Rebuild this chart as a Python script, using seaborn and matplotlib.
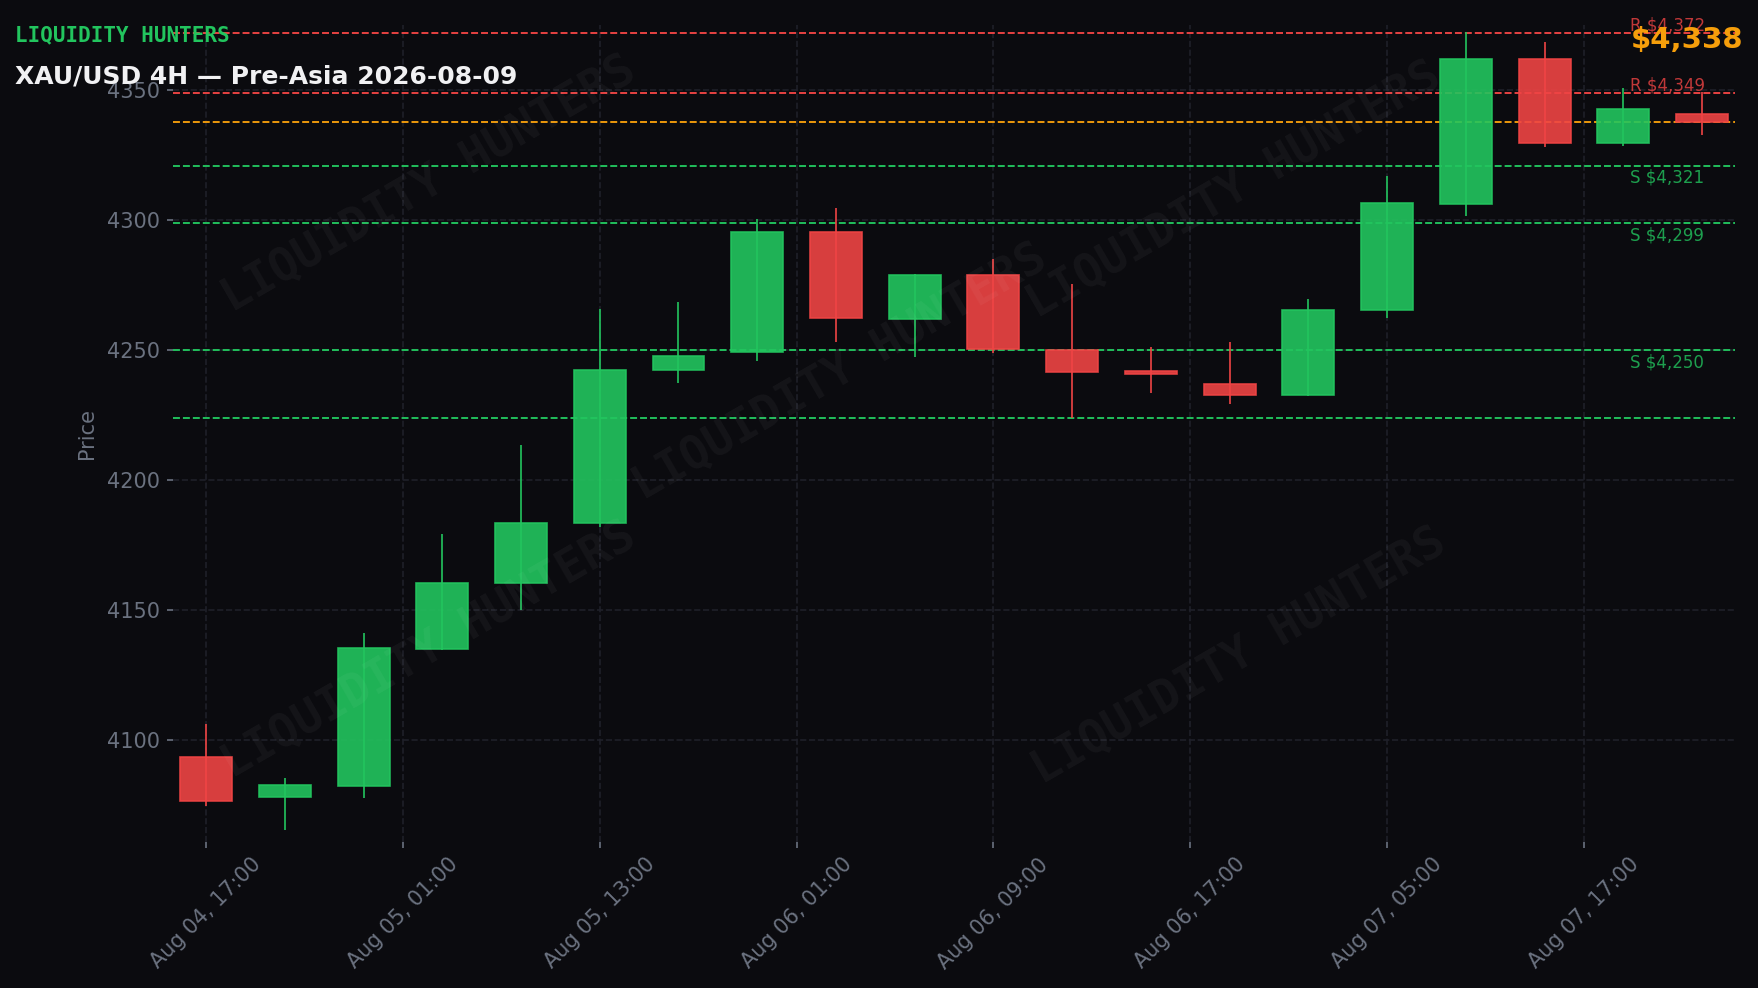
import numpy as np
import pandas as pd
import seaborn as sns
import matplotlib
matplotlib.use("Agg")
import matplotlib.pyplot as plt

# 4H candles
opens = [4093.6, 4078.4, 4082.6, 4135.1, 4160.4, 4183.5, 4242.5, 4249.3, 4295.6, 4262.2,
         4279.0, 4250.2, 4242.2, 4237.1, 4233.0, 4265.6, 4306.5, 4362.1, 4329.7, 4341.0]
highs = [4106.4, 4085.6, 4141.3, 4179.3, 4213.8, 4266.0, 4268.5, 4300.7, 4304.6, 4279.4,
         4285.3, 4275.7, 4251.5, 4253.4, 4269.8, 4317.2, 4372.3, 4368.8, 4351.0, 4349.3]
lows = [4074.9, 4065.6, 4077.9, 4134.7, 4150.0, 4182.0, 4237.5, 4246.0, 4253.4, 4247.4,
        4249.0, 4224.0, 4233.6, 4229.5, 4232.3, 4262.5, 4301.6, 4328.1, 4328.5, 4332.7]
closes = [4076.8, 4083.0, 4135.6, 4160.4, 4183.7, 4242.5, 4248.0, 4295.6, 4262.4, 4279.0,
          4250.6, 4241.6, 4241.0, 4232.9, 4265.6, 4306.7, 4362.1, 4329.7, 4342.9, 4337.7]

tick_pos = [0, 2.5, 5, 7.5, 10, 12.5, 15, 17.5]
tick_labels = ["Aug 04, 17:00", "Aug 05, 01:00", "Aug 05, 13:00", "Aug 06, 01:00",
               "Aug 06, 09:00", "Aug 06, 17:00", "Aug 07, 05:00", "Aug 07, 17:00"]

resistance = [4372, 4349]
support = [4321, 4299, 4250]
extra_support = [4224]
last_price = 4338

BG = "#0b0b0f"
GREEN = "#22c55e"
RED = "#ef4444"
ORANGE = "#f59e0b"
GRAY = "#6b7280"

sns.set_theme(style="dark", rc={
    "figure.facecolor": BG,
    "axes.facecolor": BG,
    "axes.edgecolor": BG,
    "grid.color": "#1f2029",
    "grid.linestyle": "--",
    "grid.linewidth": 0.8,
    "xtick.color": GRAY,
    "ytick.color": GRAY,
    "axes.labelcolor": GRAY,
    "xtick.bottom": True,
    "ytick.left": True,
})
plt.rcParams["font.family"] = ["DejaVu Sans"]

df = pd.DataFrame({"open": opens, "high": highs, "low": lows, "close": closes})
df["i"] = np.arange(len(df))
df["up"] = df["close"] >= df["open"]

fig = plt.figure(figsize=(11.72, 6.587), dpi=150)
ax = fig.add_axes([0.0984, 0.148, 0.8886, 0.827])

# watermarks
for (wx, wy) in [(0.244, 0.813), (0.478, 0.623), (0.702, 0.807), (0.244, 0.342), (0.705, 0.336)]:
    fig.text(wx, wy, "LIQUIDITY HUNTERS", family="DejaVu Sans Mono", fontweight="bold",
             fontsize=22, rotation=30, color="white", alpha=0.045, ha="center", va="center",
             zorder=0)

ax.grid(True, zorder=0)

# candles
for _, r in df.iterrows():
    c = GREEN if r["up"] else RED
    ax.vlines(r["i"], r["low"], r["high"], color=c, linewidth=0.8, zorder=2)
    lo = min(r["open"], r["close"])
    h = abs(r["close"] - r["open"])
    ax.bar(r["i"], max(h, 0.6), bottom=lo, width=0.66, color=c, alpha=0.9,
           edgecolor=c, linewidth=0.8, zorder=3)

# levels
for lv in resistance:
    ax.axhline(lv, color=RED, linestyle="--", linewidth=0.9, zorder=1)
    ax.text(18.08, lv + 1.0, f"R ${lv:,}", color=RED, alpha=0.8, fontsize=8,
            ha="left", va="baseline", zorder=4)
for lv in support:
    ax.axhline(lv, color=GREEN, linestyle="--", linewidth=0.9, zorder=1)
    ax.text(18.08, lv - 1.2, f"S ${lv:,}", color=GREEN, alpha=0.8, fontsize=8,
            ha="left", va="top", zorder=4)
for lv in extra_support:
    ax.axhline(lv, color=GREEN, linestyle="--", linewidth=0.9, zorder=1)
ax.axhline(last_price, color=ORANGE, linestyle="--", linewidth=0.9, zorder=1)

ax.set_xlim(-0.42, 19.42)
ax.set_ylim(4061, 4375.3)
ax.set_yticks([4100, 4150, 4200, 4250, 4300, 4350])
ax.set_xticks(tick_pos)
ax.set_xticklabels(tick_labels, rotation=45, ha="center")
ax.tick_params(axis="both", labelsize=10, length=3, width=0.8, color=GRAY, pad=3)
ax.set_ylabel("Price", fontsize=10, labelpad=5)
for s in ax.spines.values():
    s.set_visible(False)

fig.text(0.0083, 0.964, "LIQUIDITY HUNTERS", family="DejaVu Sans Mono", fontweight="bold",
         fontsize=10, color=GREEN, ha="left", va="center")
fig.text(0.0083, 0.923, "XAU/USD 4H \u2014 Pre-Asia 2026-08-09", fontweight="bold",
         fontsize=12, color="#f1f1f3", ha="left", va="center")
fig.text(0.9917, 0.96, f"${last_price:,}", fontweight="bold", fontsize=14, color=ORANGE,
         ha="right", va="center")

fig.savefig("out.png", dpi=150, facecolor=BG)
